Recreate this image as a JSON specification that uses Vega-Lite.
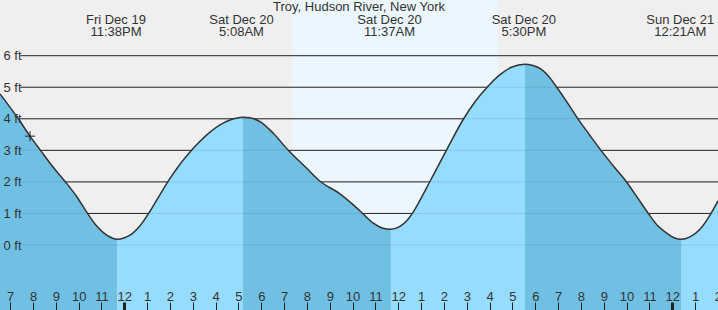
{
  "$schema": "https://vega.github.io/schema/vega-lite/v6.json",
  "width": 718,
  "height": 310,
  "autosize": "none",
  "padding": 0,
  "background": "#efefef",
  "view": {"fill": "#efefef", "stroke": null},
  "config": {"font": "Liberation Sans"},
  "resolve": {"axis": {"x": "independent", "y": "independent"}},
  "datasets": {
    "tide": [
      {"t": -5.445, "ft": 4.79, "segs": ["f1"]},
      {"t": -4.643, "ft": 4.0, "segs": ["f1"]},
      {"t": -4.131, "ft": 3.45, "segs": ["f1"]},
      {"t": -3.671, "ft": 3.0, "segs": ["f1"]},
      {"t": -3.123, "ft": 2.47, "segs": ["f1"]},
      {"t": -2.532, "ft": 1.96, "segs": ["f1"]},
      {"t": -2.072, "ft": 1.52, "segs": ["f1"]},
      {"t": -1.612, "ft": 1.0, "segs": ["f1"]},
      {"t": -1.209, "ft": 0.6, "segs": ["f1"]},
      {"t": -0.771, "ft": 0.31, "segs": ["f1"]},
      {"t": -0.539, "ft": 0.22, "segs": ["f1"]},
      {"t": -0.307, "ft": 0.18, "segs": ["f1", "r1"]},
      {"t": -0.013, "ft": 0.22, "segs": ["r1"]},
      {"t": 0.25, "ft": 0.31, "segs": ["r1"]},
      {"t": 0.688, "ft": 0.61, "segs": ["r1"]},
      {"t": 1.126, "ft": 1.07, "segs": ["r1"]},
      {"t": 1.564, "ft": 1.6, "segs": ["r1"]},
      {"t": 2.002, "ft": 2.11, "segs": ["r1"]},
      {"t": 2.44, "ft": 2.56, "segs": ["r1"]},
      {"t": 2.878, "ft": 2.95, "segs": ["r1"]},
      {"t": 3.316, "ft": 3.29, "segs": ["r1"]},
      {"t": 3.754, "ft": 3.58, "segs": ["r1"]},
      {"t": 4.192, "ft": 3.81, "segs": ["r1"]},
      {"t": 4.63, "ft": 3.96, "segs": ["r1"]},
      {"t": 5.193, "ft": 4.05, "segs": ["r1", "f2"]},
      {"t": 5.506, "ft": 4.03, "segs": ["f2"]},
      {"t": 5.944, "ft": 3.91, "segs": ["f2"]},
      {"t": 6.526, "ft": 3.54, "segs": ["f2"]},
      {"t": 7.183, "ft": 3.0, "segs": ["f2"]},
      {"t": 7.99, "ft": 2.43, "segs": ["f2"]},
      {"t": 8.572, "ft": 2.02, "segs": ["f2"]},
      {"t": 9.448, "ft": 1.62, "segs": ["f2"]},
      {"t": 10.031, "ft": 1.27, "segs": ["f2"]},
      {"t": 10.442, "ft": 1.0, "segs": ["f2"]},
      {"t": 10.907, "ft": 0.69, "segs": ["f2"]},
      {"t": 11.288, "ft": 0.54, "segs": ["f2"]},
      {"t": 11.677, "ft": 0.5, "segs": ["f2", "r2"]},
      {"t": 12.076, "ft": 0.59, "segs": ["r2"]},
      {"t": 12.382, "ft": 0.78, "segs": ["r2"]},
      {"t": 12.646, "ft": 1.035, "segs": ["r2"]},
      {"t": 12.953, "ft": 1.42, "segs": ["r2"]},
      {"t": 13.391, "ft": 2.02, "segs": ["r2"]},
      {"t": 13.829, "ft": 2.62, "segs": ["r2"]},
      {"t": 14.267, "ft": 3.22, "segs": ["r2"]},
      {"t": 14.837, "ft": 3.97, "segs": ["r2"]},
      {"t": 15.363, "ft": 4.54, "segs": ["r2"]},
      {"t": 15.932, "ft": 5.03, "segs": ["r2"]},
      {"t": 16.458, "ft": 5.4, "segs": ["r2"]},
      {"t": 16.983, "ft": 5.64, "segs": ["r2"]},
      {"t": 17.55, "ft": 5.73, "segs": ["r2", "f3"]},
      {"t": 17.862, "ft": 5.7, "segs": ["f3"]},
      {"t": 18.209, "ft": 5.6, "segs": ["f3"]},
      {"t": 18.559, "ft": 5.37, "segs": ["f3"]},
      {"t": 18.94, "ft": 5.0, "segs": ["f3"]},
      {"t": 19.391, "ft": 4.53, "segs": ["f3"]},
      {"t": 19.886, "ft": 3.98, "segs": ["f3"]},
      {"t": 20.398, "ft": 3.47, "segs": ["f3"]},
      {"t": 20.88, "ft": 3.0, "segs": ["f3"]},
      {"t": 21.45, "ft": 2.48, "segs": ["f3"]},
      {"t": 22.006, "ft": 1.99, "segs": ["f3"]},
      {"t": 22.479, "ft": 1.5, "segs": ["f3"]},
      {"t": 22.952, "ft": 1.0, "segs": ["f3"]},
      {"t": 23.377, "ft": 0.6, "segs": ["f3"]},
      {"t": 23.758, "ft": 0.38, "segs": ["f3"]},
      {"t": 24.078, "ft": 0.23, "segs": ["f3"]},
      {"t": 24.41, "ft": 0.18, "segs": ["f3", "r3"]},
      {"t": 24.78, "ft": 0.26, "segs": ["r3"]},
      {"t": 25.217, "ft": 0.5, "segs": ["r3"]},
      {"t": 25.655, "ft": 0.95, "segs": ["r3"]},
      {"t": 26.005, "ft": 1.4, "segs": ["r3"]}
    ],
    "extremes": [
      {"t": -0.367, "label": ["Fri Dec 19", "11:38PM"]},
      {"t": 5.133, "label": ["Sat Dec 20", "5:08AM"]},
      {"t": 11.617, "label": ["Sat Dec 20", "11:37AM"]},
      {"t": 17.5, "label": ["Sat Dec 20", "5:30PM"]},
      {"t": 24.35, "label": ["Sun Dec 21", "12:21AM"]}
    ],
    "grid": [{"ft": 0}, {"ft": 1}, {"ft": 2}, {"ft": 3}, {"ft": 4}, {"ft": 5}, {"ft": 6}],
    "daylight": [{"sunrise": 7.332, "sunset": 16.369}],
    "now": [{"t": -4.131, "ft": 3.45}],
    "heading": [{"name": "Troy, Hudson River, New York", "t": 10.28}]
  },
  "layer": [
    {
      "data": {"name": "daylight"},
      "mark": {"type": "rect", "color": "#ecf6fe"},
      "encoding": {
        "x": {"field": "sunrise", "type": "quantitative", "title": null, "axis": null, "scale": {"domain": [-5.445, 26.005], "nice": false, "zero": false}},
        "x2": {"field": "sunset"}
      }
    },
    {
      "data": {"name": "grid"},
      "mark": {"type": "rule", "color": "#2a2a2a", "strokeWidth": 1},
      "encoding": {
        "y": {"field": "ft", "type": "quantitative", "title": null, "axis": null, "scale": {"domain": [-2.06, 7.765], "nice": false, "zero": false}},
        "x": {"datum": -4.55, "type": "quantitative", "title": null, "axis": null, "scale": {"domain": [-5.445, 26.005], "nice": false, "zero": false}},
        "x2": {"datum": 26.2}
      }
    },
    {
      "data": {"name": "tide"},
      "transform": [{"flatten": ["segs"], "as": ["seg"]}],
      "mark": {"type": "area", "interpolate": "monotone"},
      "encoding": {
        "x": {
          "field": "t", "type": "quantitative", "title": null,
          "scale": {"domain": [-5.445, 26.005], "nice": false, "zero": false},
          "axis": {
            "values": [-5, -4, -3, -2, -1, 0, 1, 2, 3, 4, 5, 6, 7, 8, 9, 10, 11, 12, 13, 14, 15, 16, 17, 18, 19, 20, 21, 22, 23, 24, 25, 26],
            "labelExpr": "((datum.value % 12) + 12) % 12 === 0 ? '12' : '' + (((datum.value % 12) + 12) % 12)",
            "title": null, "orient": "bottom", "domain": false, "grid": false,
            "ticks": true, "tickSize": -8, "tickColor": "#222",
            "tickWidth": {"condition": {"test": "datum.value % 24 === 0", "value": 3}, "value": 1},
            "labelPadding": -2, "labelBaseline": "alphabetic", "labelFontSize": 13,
            "labelColor": "#333", "labelFont": "Liberation Sans",
            "labelFlush": false, "labelOverlap": false, "labelBound": false, "zindex": 1
          }
        },
        "y": {
          "field": "ft", "type": "quantitative", "title": null, "stack": null,
          "scale": {"domain": [-2.06, 7.765], "nice": false, "zero": false},
          "axis": {
            "values": [0, 1, 2, 3, 4, 5, 6],
            "labelExpr": "datum.value + ' ft'",
            "title": null, "orient": "left", "domain": false, "grid": false,
            "ticks": false, "tickSize": 0,
            "labelAlign": "left", "labelBaseline": "middle", "labelPadding": -3,
            "labelFontSize": 13, "labelColor": "#333", "labelFont": "Liberation Sans",
            "labelOverlap": false, "labelBound": false, "labelFlush": false, "zindex": 1
          }
        },
        "y2": {"datum": -2.06},
        "color": {
          "field": "seg", "type": "nominal", "legend": null,
          "scale": {"domain": ["f1", "r1", "f2", "r2", "f3", "r3"], "range": ["#70c0e4", "#96dcfe", "#70c0e4", "#96dcfe", "#70c0e4", "#96dcfe"]}
        }
      }
    },
    {
      "data": {"name": "grid"},
      "mark": {"type": "rule", "color": "#000", "opacity": 0.09, "strokeWidth": 1},
      "encoding": {
        "y": {"field": "ft", "type": "quantitative", "title": null, "axis": null, "scale": {"domain": [-2.06, 7.765], "nice": false, "zero": false}},
        "x": {"datum": -4.55, "type": "quantitative", "title": null, "axis": null, "scale": {"domain": [-5.445, 26.005], "nice": false, "zero": false}},
        "x2": {"datum": 26.2}
      }
    },
    {
      "data": {"name": "tide"},
      "mark": {"type": "line", "interpolate": "monotone", "color": "#333", "strokeWidth": 1.5},
      "encoding": {
        "x": {"field": "t", "type": "quantitative", "title": null, "axis": null, "scale": {"domain": [-5.445, 26.005], "nice": false, "zero": false}},
        "y": {"field": "ft", "type": "quantitative", "title": null, "axis": null, "scale": {"domain": [-2.06, 7.765], "nice": false, "zero": false}}
      }
    },
    {
      "data": {"name": "now"},
      "mark": {"type": "point", "shape": "M-1,0H1M0,-1V1", "filled": false, "color": "#222", "strokeWidth": 1, "size": 100, "opacity": 1},
      "encoding": {
        "x": {"field": "t", "type": "quantitative", "title": null, "axis": null, "scale": {"domain": [-5.445, 26.005], "nice": false, "zero": false}},
        "y": {"field": "ft", "type": "quantitative", "title": null, "axis": null, "scale": {"domain": [-2.06, 7.765], "nice": false, "zero": false}}
      }
    },
    {
      "data": {"name": "extremes"},
      "mark": {"type": "text", "fontSize": 13, "color": "#333", "baseline": "alphabetic", "align": "center", "lineHeight": 12},
      "encoding": {
        "x": {"field": "t", "type": "quantitative", "title": null, "axis": null, "scale": {"domain": [-5.445, 26.005], "nice": false, "zero": false}},
        "y": {"datum": 7.005, "type": "quantitative", "title": null, "axis": null, "scale": {"domain": [-2.06, 7.765], "nice": false, "zero": false}},
        "text": {"field": "label"}
      }
    },
    {
      "data": {"name": "heading"},
      "mark": {"type": "text", "fontSize": 13, "color": "#333", "baseline": "alphabetic", "align": "center"},
      "encoding": {
        "x": {"field": "t", "type": "quantitative", "title": null, "axis": null, "scale": {"domain": [-5.445, 26.005], "nice": false, "zero": false}},
        "y": {"datum": 7.41, "type": "quantitative", "title": null, "axis": null, "scale": {"domain": [-2.06, 7.765], "nice": false, "zero": false}},
        "text": {"field": "name"}
      }
    }
  ]
}
